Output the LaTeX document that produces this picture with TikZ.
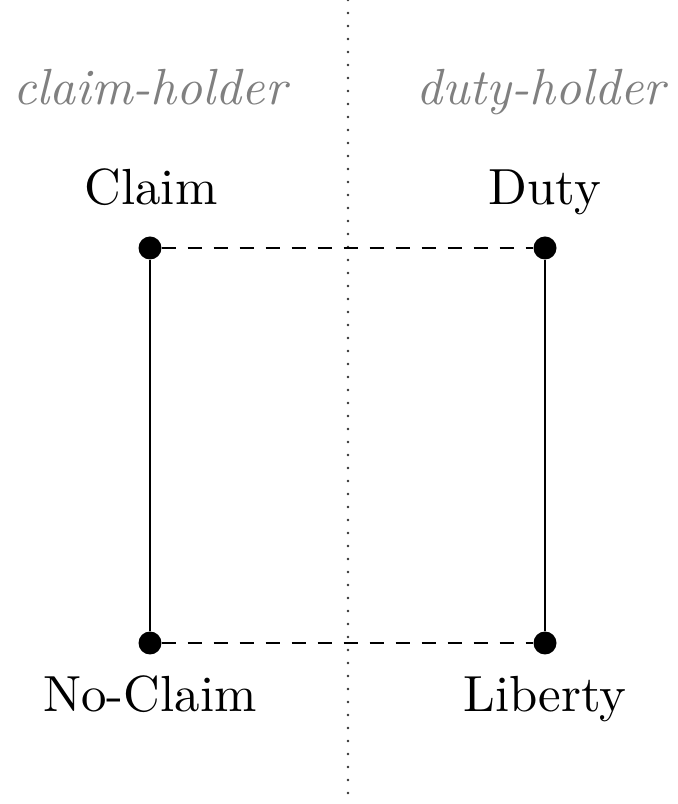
\documentclass[tikz,border=0pt]{standalone}
\usepackage{graphicx}
\newcommand{\bigtxt}[1]{\scalebox{5.08}{#1}}
\begin{document}
\begin{tikzpicture}[x=1pt,y=1pt,
  dot/.style={circle,fill=black,inner sep=0pt,minimum size=23pt},
  lbl/.style={anchor=base,inner sep=0pt},
  role/.style={font=\itshape,text=black!50,anchor=base,inner sep=0pt},
  rel/.style={line width=1.8pt},
  corr/.style={line width=2pt,dash pattern=on 14pt off 12pt}]
\useasboundingbox (0,0) rectangle (678,804);
% divider between the two parties
\coordinate (top) at (348,804);
\coordinate (bot) at (348,0);
\draw[line width=2.6pt,line cap=round,dash pattern=on 0pt off 13pt,black!80] (top) -- (bot);
% party headings
\node[role] (ch) at (150,699) {\bigtxt{claim-holder}};
\node[role] (dh) at (541,699) {\bigtxt{duty-holder}};
% positions
\node[dot] (claim) at (150,556) {};
\node[dot] (duty) at (545,556) {};
\node[dot] (noclaim) at (150,161) {};
\node[dot] (liberty) at (545,161) {};
\node[lbl] (tclaim) at (151,599) {\bigtxt{Claim}};
\node[lbl] (tduty) at (545,599) {\bigtxt{Duty}};
\node[lbl] (tnoclaim) at (150,92) {\bigtxt{No-Claim}};
\node[lbl] (tliberty) at (545,92) {\bigtxt{Liberty}};
% relations
\draw[rel] (claim) -- (noclaim);
\draw[rel] (duty) -- (liberty);
\draw[corr] (claim) -- (duty);
\draw[corr] (noclaim) -- (liberty);
\end{tikzpicture}
\end{document}
